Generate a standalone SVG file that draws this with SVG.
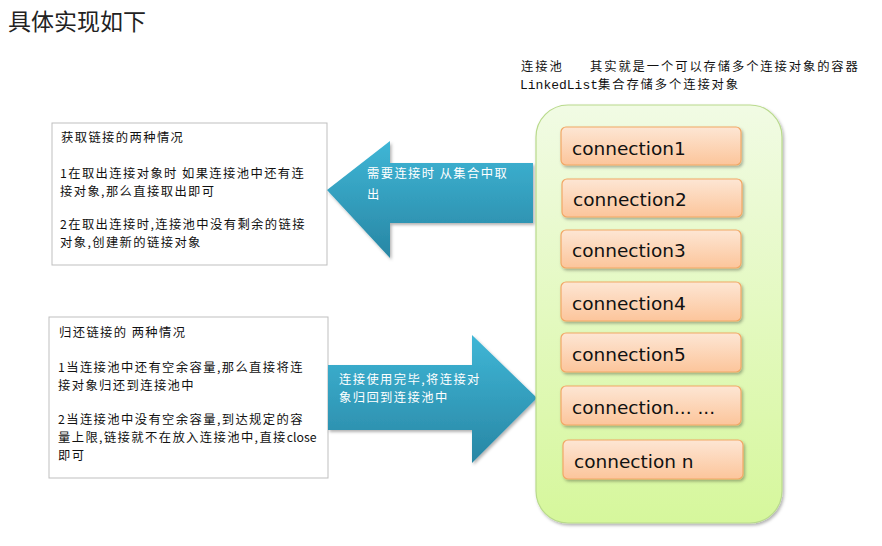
<svg xmlns="http://www.w3.org/2000/svg" width="882" height="546" viewBox="0 0 882 546">
<defs>
<linearGradient id="blue" x1="0" y1="0" x2="0" y2="1">
<stop offset="0" stop-color="#3fb6d6"/>
<stop offset="1" stop-color="#2886a4"/>
</linearGradient>
<linearGradient id="green" x1="0" y1="0" x2="0" y2="1">
<stop offset="0" stop-color="#f1fbe4"/>
<stop offset="1" stop-color="#d6f79c"/>
</linearGradient>
<linearGradient id="orange" x1="0" y1="0" x2="0" y2="1">
<stop offset="0" stop-color="#fde6d4"/>
<stop offset="1" stop-color="#fcc59b"/>
</linearGradient>
<filter id="sh" x="-10%" y="-10%" width="130%" height="130%">
<feDropShadow dx="1.5" dy="2" stdDeviation="1.5" flood-color="#000" flood-opacity="0.3"/>
</filter>
</defs>
<style>
.cjk{font-family:"Noto Sans CJK SC","Noto Sans",sans-serif;}
.t{font-size:12.3px;letter-spacing:1.4px;fill:#111;}
.w{font-size:12.3px;letter-spacing:1.4px;fill:#fff;}
.box{fill:#fff;stroke:#bfbfbf;stroke-width:1;}
.conn{fill:url(#orange);stroke:#f2a765;stroke-width:1.2;filter:url(#sh);}
.ct{font-family:"DejaVu Sans",sans-serif;font-size:18.5px;fill:#111;}
.arrow{fill:url(#blue);filter:url(#sh);}
.nt{font-size:12.3px;letter-spacing:1.9px;fill:#111;}
</style>
<rect width="882" height="546" fill="#fff"/>
<text class="cjk" x="8" y="30" font-size="23" fill="#222">具体实现如下</text>
<g id="note">
<text class="cjk nt" x="521" y="71">连接池</text>
<text class="cjk nt" x="590" y="71">其实就是一个可以存储多个连接对象的容器</text>
<text x="520" y="89" class="nt"><tspan font-family="Liberation Mono, monospace" font-size="13" letter-spacing="0">LinkedList</tspan><tspan class="cjk">集合存储多个连接对象</tspan></text>
</g>
<g id="box-get">
<rect class="box" x="52" y="123" width="275" height="142"/>
<text class="cjk t" x="61" y="142">获取链接的两种情况</text>
<text class="cjk t" x="60" y="178">1在取出连接对象时 如果连接池中还有连</text>
<text class="cjk t" x="60" y="196">接对象,那么直接取出即可</text>
<text class="cjk t" x="60" y="229">2在取出连接时,连接池中没有剩余的链接</text>
<text class="cjk t" x="60" y="247">对象,创建新的链接对象</text>
</g>
<g id="box-return">
<rect class="box" x="49" y="317" width="279" height="161"/>
<text class="cjk t" x="59" y="337">归还链接的 两种情况</text>
<text class="cjk t" x="58" y="372">1当连接池中还有空余容量,那么直接将连</text>
<text class="cjk t" x="58" y="390">接对象归还到连接池中</text>
<text class="cjk t" x="58" y="424">2当连接池中没有空余容量,到达规定的容</text>
<text class="cjk t" x="58" y="442">量上限,链接就不在放入连接池中,直接<tspan letter-spacing="0">close</tspan></text>
<text class="cjk t" x="58" y="460">即可</text>
</g>
<g id="connectors">
<g id="arrow-get">
<polygon class="arrow" points="327,190 390,141 390,163 533,163 533,223 390,223 390,258"/>
<text class="cjk w" x="367" y="178">需要连接时 从集合中取</text>
<text class="cjk w" x="367" y="199">出</text>
</g>
<g id="arrow-return">
<polygon class="arrow" points="328,365 472,365 472,335 537,398 472,463 472,430 328,430"/>
<text class="cjk w" x="339" y="384">连接使用完毕,将连接对</text>
<text class="cjk w" x="339" y="402">象归回到连接池中</text>
</g>
</g>
<g id="pool">
<rect x="536" y="105" width="246" height="418" rx="32" ry="32" fill="url(#green)" stroke="#b9da8c" stroke-width="1.2" filter="url(#sh)"/>
</g>
<g id="conn1"><rect class="conn" x="561" y="127" width="180" height="38" rx="5"/><text class="ct" x="572" y="155">connection1</text></g>
<g id="conn2"><rect class="conn" x="562" y="179" width="180" height="38" rx="5"/><text class="ct" x="573" y="206">connection2</text></g>
<g id="conn3"><rect class="conn" x="561" y="230" width="180" height="38" rx="5"/><text class="ct" x="572" y="257">connection3</text></g>
<g id="conn4"><rect class="conn" x="561" y="282" width="180" height="39" rx="5"/><text class="ct" x="572" y="310">connection4</text></g>
<g id="conn5"><rect class="conn" x="561" y="333" width="180" height="39" rx="5"/><text class="ct" x="572" y="361">connection5</text></g>
<g id="conn6"><rect class="conn" x="561" y="386" width="180" height="39" rx="5"/><text class="ct" x="572" y="414">connection... ...</text></g>
<g id="connn"><rect class="conn" x="563" y="440" width="180" height="39" rx="5"/><text class="ct" x="574" y="468">connection n</text></g>
</svg>
